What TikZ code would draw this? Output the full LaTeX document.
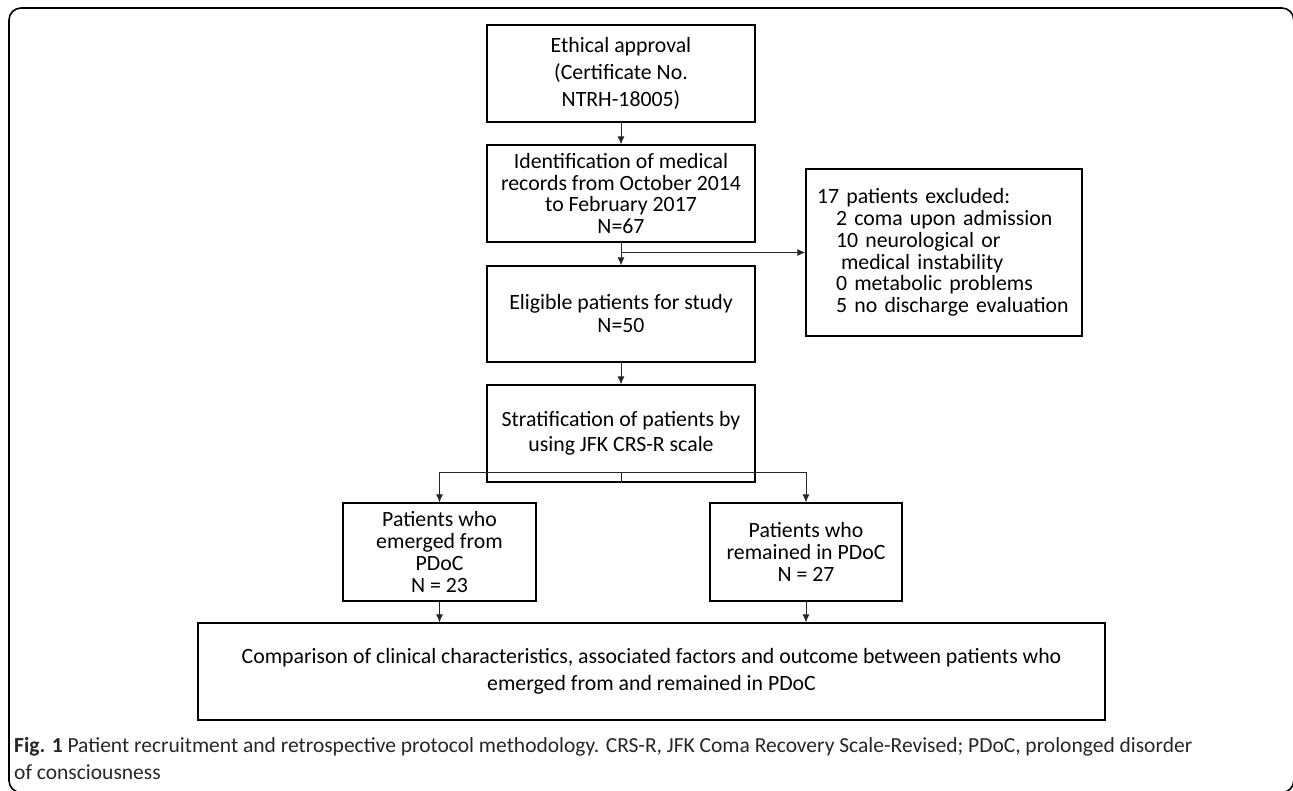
\documentclass[tikz,border=0pt]{standalone}
\usepackage{fontspec}
\setmainfont{Carlito}
\usetikzlibrary{arrows.meta,positioning}

\begin{document}
\begin{tikzpicture}[x=1pt,y=-1pt,
                box/.style={draw,line width=1.3pt,align=center,inner sep=0pt,
                    font=\fontsize{21.8}{21.7}\selectfont},
                link/.style={line width=0.9pt,draw=black!85,-{Latex[length=8pt,width=7pt]}},
                branch/.style={line width=0.9pt,draw=black!85}]
                \useasboundingbox (0,0) rectangle (1293,791);
                \draw [line width=1.6pt,rounded corners=12pt] (9,8) rectangle (1293.8,792.5);
                \node[box,minimum width=268pt,minimum height=97pt,font=\fontsize{21.8}{27}\selectfont]
                    (eth) at (621,73.5) {Ethical approval\\(Certificate No.\\NTRH-18005)};
                \node[box,minimum width=268pt,minimum height=97pt]
                    (rec) at (621,193.5) {Identification of medical\\records from October 2014\\to February 2017\\N=67};
                \node[box,minimum width=268pt,minimum height=96pt,font=\fontsize{21.8}{23}\selectfont]
                    (elig) at (621,314) {Eligible patients for study\\N=50};
                \node[box,minimum width=268pt,minimum height=97pt,font=\fontsize{21.8}{25}\selectfont]
                    (strat) at (621,433.5) {Stratification of patients by\\using JFK CRS-R scale};
                \node[box,align=left,text width=254pt,inner xsep=11pt,minimum height=167pt]
                    (excl) at (944,252.5) {17 patients excluded:\\
                    \hspace*{19pt}2 coma upon admission\\
                    \hspace*{19pt}10 neurological or\\
                    \hspace*{24pt}medical instability\\
                    \hspace*{19pt}0 metabolic problems\\
                    \hspace*{19pt}5 no discharge evaluation};
                \node[box,minimum width=193pt,minimum height=98pt]
                    (emg) at (439.5,552) {Patients who\\emerged from\\PDoC\\N = 23};
                \node[box,minimum width=192pt,minimum height=98pt]
                    (rem) at (806,552) {Patients who\\remained in PDoC\\N = 27};
                \node[box,minimum width=907pt,minimum height=97pt,font=\fontsize{21.8}{27}\selectfont]
                    (cmp) at (651.5,671.5) {Comparison of clinical characteristics, associated factors and outcome between patients who\\emerged from and remained in PDoC};
                \node[anchor=west,align=left,inner sep=0pt,text=black!85,font=\fontsize{21.5}{27}\selectfont]
                    (cap) at (14,758.5) {\textbf{Fig. 1} Patient recruitment and retrospective protocol methodology. CRS-R, JFK Coma Recovery Scale-Revised; PDoC, prolonged disorder\\of consciousness};
                \coordinate (S1) at (rec.south |- excl.west);
                \coordinate (S2) at ([yshift=10pt]strat.south);
                \draw [link] (eth) -- (rec);
                \draw [link] (rec) -- (elig);
                \draw [link] (S1) -- (excl.west);
                \draw [link] (elig) -- (strat);
                \draw [branch] (strat.south) -- (S2);
                \draw [link] (S2) -| (emg.north);
                \draw [link] (S2) -| (rem.north);
                \draw [link] (emg.south) -- (emg.south |- cmp.north);
                \draw [link] (rem.south) -- (rem.south |- cmp.north);
            \end{tikzpicture}
\end{document}
